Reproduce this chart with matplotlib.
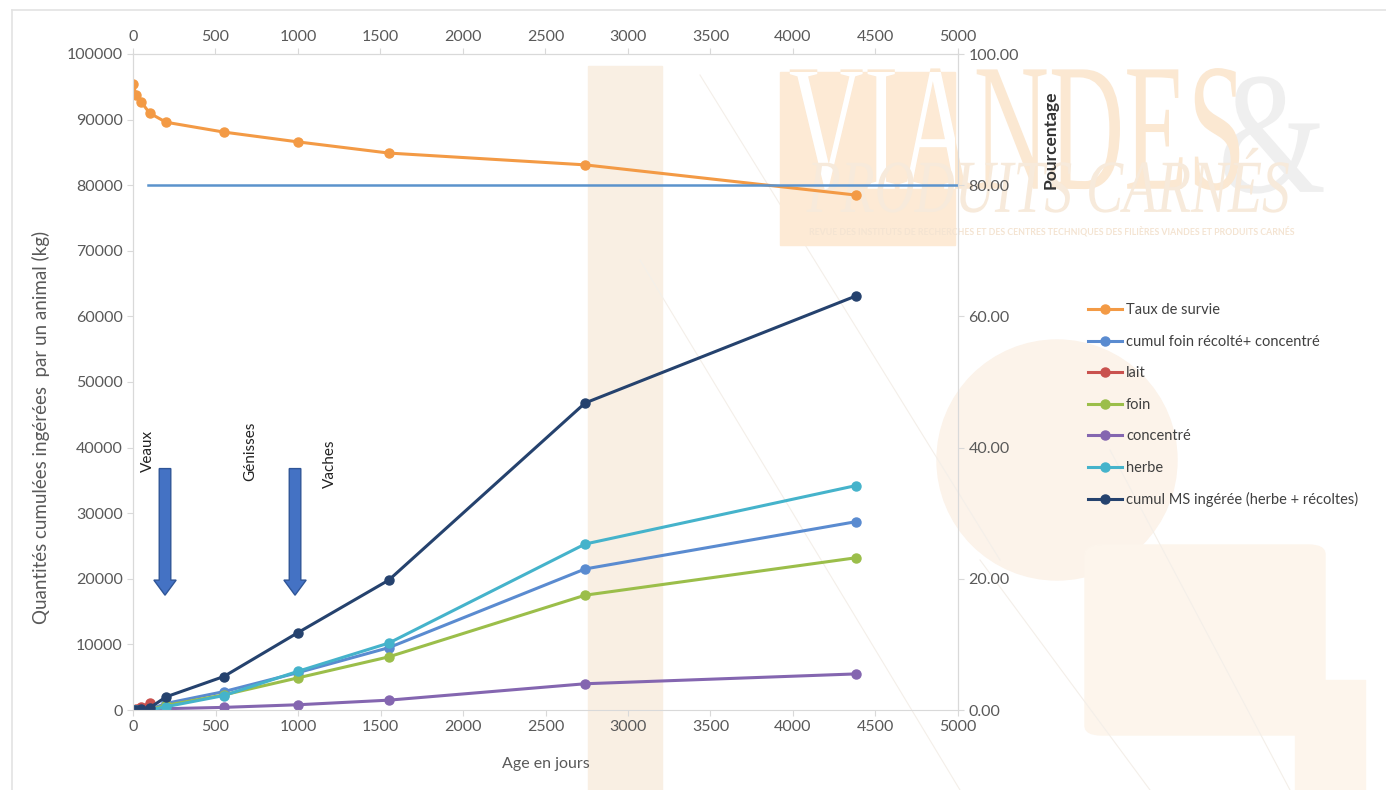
import numpy as np
import matplotlib
matplotlib.use("Agg")
import matplotlib.pyplot as plt
from matplotlib.patches import Rectangle, Ellipse, FancyBboxPatch, FancyArrow
from matplotlib.lines import Line2D
from matplotlib.patheffects import AbstractPathEffect
from matplotlib.transforms import Affine2D

plt.rcParams['font.family'] = ['Lato', 'DejaVu Sans']

# --- data ---
ages = [0, 20, 50, 100, 200, 550, 1000, 1550, 2740, 4380]
survie = [95.4, 93.7, 92.7, 91.0, 89.6, 88.1, 86.6, 84.9, 83.1, 78.5]
cumul_foin_conc = [0, 0, 0, 100, 1000, 2800, 5700, 9500, 21500, 28700]
foin = [0, 0, 0, 50, 700, 2300, 4900, 8100, 17500, 23200]
concentre = [0, 0, 0, 50, 200, 400, 800, 1500, 4000, 5500]
herbe = [0, 0, 0, 0, 500, 2200, 5900, 10200, 25300, 34200]
cumul_ms = [0, 50, 100, 300, 2000, 5100, 11800, 19800, 46800, 63100]
lait_ages = [0, 20, 50, 100]
lait = [0, 200, 500, 1000]
seuil_x = [90, 5000]
seuil_y = [80, 80]

W, H = 1386, 790
fig = plt.figure(figsize=(W / 100, H / 100), dpi=100)


def fx(px):
    return px / W


def fy(py):
    return 1 - py / H


class Stretch(AbstractPathEffect):
    # squeeze / stretch the glyphs around a centre point (display pixels)
    def __init__(self, sx, sy, cx, cy):
        super().__init__()
        self.sx, self.sy, self.cx, self.cy = sx, sy, cx, cy

    def draw_path(self, renderer, gc, tpath, affine, rgbFace=None):
        tr = affine + Affine2D().translate(-self.cx, -self.cy).scale(self.sx, self.sy) \
            .translate(self.cx, self.cy)
        renderer.draw_path(gc, tpath, tr, rgbFace)


# --- background decorations (journal watermark) ---
fig.patches.append(Rectangle((fx(588), 0), fx(74), fy(66), transform=fig.transFigure,
                             color='#F9EFE3', zorder=-5))
fig.patches.append(Ellipse((fx(1057), fy(460)), 240 / W, 240 / H, transform=fig.transFigure,
                           color='#FCF3EA', zorder=-5))
fig.patches.append(FancyBboxPatch((fx(1085), fy(735)), fx(240), fy(545) - fy(735),
                                  boxstyle='round,pad=0,rounding_size=0.012',
                                  transform=fig.transFigure, color='#FDF5EC', zorder=-5))
fig.patches.append(Rectangle((fx(1295), 0), fx(70), fy(680), transform=fig.transFigure,
                             color='#FDF5EC', zorder=-5))
wm_rect = Rectangle((fx(780), fy(245)), fx(175), fy(72) - fy(245),
                    transform=fig.transFigure, color='#FDEAD5', zorder=-4)
fig.patches.append(wm_rect)
for x0, y0, x1, y1 in [(700, 75, 1000, 560), (640, 260, 960, 790), (980, 560, 1150, 790),
                       (1110, 450, 1290, 790)]:
    fig.lines.append(Line2D([fx(x0), fx(x1)], [fy(y0), fy(y1)], transform=fig.transFigure,
                            color='#F4EFE9', lw=0.8, zorder=-4))

cx, cy = 1017, H - 145
fig.text(fx(1272), fy(150), '&', fontsize=100, family='Liberation Serif',
         color='#EFEFEF', ha='center', va='center', zorder=-3,
         path_effects=[Stretch(1.0, 1.25, 1272, H - 150)])
fig.text(fx(cx), fy(145), 'VIANDES', fontsize=75, family='Liberation Serif',
         color='#FBE8D2', ha='center', va='center', zorder=-3,
         path_effects=[Stretch(1.0, 1.75, cx, cy)])
t_white = fig.text(fx(cx), fy(145), 'VIANDES', fontsize=75, family='Liberation Serif',
                   color='white', ha='center', va='center', zorder=-2.9,
                   path_effects=[Stretch(1.0, 1.75, cx, cy)])
t_white.set_clip_path(wm_rect)
fig.text(fx(1048), fy(193), 'PRODUITS CARNÉS', fontsize=40, family='Liberation Serif',
         style='italic', color='#F7EADB', ha='center', va='center', zorder=-2.5,
         path_effects=[Stretch(1.0, 1.35, 1048, H - 193)])
fig.text(fx(1052), fy(231), 'REVUE DES INSTITUTS DE RECHERCHES ET DES CENTRES TECHNIQUES '
         'DES FILIÈRES VIANDES ET PRODUITS CARNÉS', fontsize=6.3, color='#F4E4D2',
         fontweight='bold', ha='center', va='center', zorder=-2.5)

# frame lines
fig.lines.append(Line2D([fx(12), 1], [fy(10), fy(10)], transform=fig.transFigure,
                        color='#E3E3E3', lw=1.2, zorder=-1))
fig.lines.append(Line2D([fx(12), fx(12)], [fy(10), 0], transform=fig.transFigure,
                        color='#E3E3E3', lw=1.2, zorder=-1))

# --- axes ---
ax = fig.add_axes([fx(133), fy(710), fx(825), fy(54) - fy(710)])
ax.set_facecolor('none')
ax2 = ax.twinx()
ax2.set_facecolor('none')

lw, ms = 2.2, 6.5
h_surv, = ax2.plot(ages, survie, color='#F39A45', marker='o', lw=lw, ms=ms, label='Taux de survie')
ax2.plot(seuil_x, seuil_y, color='#5B93CC', lw=1.8)
h_cfc, = ax.plot(ages, cumul_foin_conc, color='#5A8BD0', marker='o', lw=lw, ms=ms,
                 label='cumul foin récolté+ concentré')
h_lait, = ax.plot(lait_ages, lait, color='#C9514E', marker='o', lw=lw, ms=ms, label='lait')
h_foin, = ax.plot(ages, foin, color='#9BBE4A', marker='o', lw=lw, ms=ms, label='foin')
h_conc, = ax.plot(ages, concentre, color='#8466B0', marker='o', lw=lw, ms=ms, label='concentré')
h_herbe, = ax.plot(ages, herbe, color='#45B3CB', marker='o', lw=lw, ms=ms, label='herbe')
h_ms, = ax.plot(ages, cumul_ms, color='#25426E', marker='o', lw=lw, ms=ms,
                label='cumul MS ingérée (herbe + récoltes)')

ax.set_xlim(0, 5000)
ax.set_ylim(0, 100000)
ax2.set_ylim(0, 100)
ax.set_xticks(np.arange(0, 5001, 500))
ax.set_yticks(np.arange(0, 100001, 10000))
ax2.set_yticks(np.arange(0, 101, 20))
ax2.yaxis.set_major_formatter(matplotlib.ticker.FormatStrFormatter('%.2f'))
top = ax.secondary_xaxis('top')
top.set_xticks(np.arange(0, 5001, 500))

tick_col = '#595959'
spine_col = '#D9D9D9'
for a in (ax, ax2, top):
    a.tick_params(colors=spine_col, labelcolor=tick_col, labelsize=11.5, length=4)
    for s in a.spines.values():
        s.set_color(spine_col)
ax2.spines['top'].set_visible(False)
ax2.spines['bottom'].set_visible(False)

ax.set_xlabel('Age en jours', fontsize=11.5, color=tick_col)
ax.xaxis.set_label_coords(0.5, -0.072)
ax.set_ylabel('Quantités cumulées ingérées  par un animal (kg)', fontsize=13.5, color=tick_col)
ax.yaxis.set_label_coords(-0.1, 0.43)
ax2.set_ylabel('Pourcentage', fontsize=12.5, color='#333333', fontweight='bold')
ax2.yaxis.set_label_coords(1.103, 0.87)

# --- annotations: categories and arrows ---
ax.text(91, 42700, 'Veaux', rotation=90, ha='center', va='top', fontsize=11, color='#222222')
ax.text(709, 44000, 'Génisses', rotation=90, ha='center', va='top', fontsize=11, color='#222222')
ax.text(1194, 41300, 'Vaches', rotation=90, ha='center', va='top', fontsize=11, color='#222222')
for xa in (194, 982):
    ax.add_patch(FancyArrow(xa, 36800, 0, -19300, width=70, head_width=135,
                            head_length=2300, length_includes_head=True,
                            fc='#4472C4', ec='#2F5597', lw=1, zorder=3))

# --- legend ---
handles = [h_surv, h_cfc, h_lait, h_foin, h_conc, h_herbe, h_ms]
fig.legend(handles=handles, loc='upper left', bbox_to_anchor=(fx(1075), fy(290)),
           frameon=False, fontsize=10.5, labelspacing=1.2, handlelength=2.3,
           handletextpad=0.3, labelcolor='#404040')

fig.savefig('out.png', dpi=100)
